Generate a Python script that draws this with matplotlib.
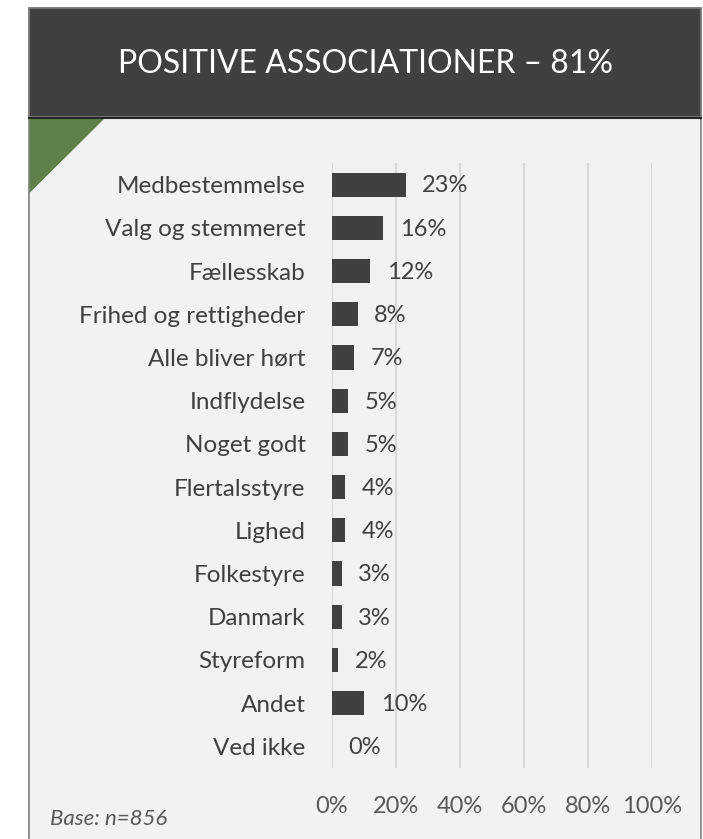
import matplotlib
matplotlib.use("Agg")
import matplotlib.pyplot as plt
from matplotlib.patches import Rectangle, Polygon

plt.rcParams['font.family'] = ['Lato', 'DejaVu Sans']

# Data
categories = ["Medbestemmelse", "Valg og stemmeret", "Fællesskab",
              "Frihed og rettigheder", "Alle bliver hørt", "Indflydelse",
              "Noget godt", "Flertalsstyre", "Lighed", "Folkestyre",
              "Danmark", "Styreform", "Andet", "Ved ikke"]
values = [23, 16, 12, 8, 7, 5, 5, 4, 4, 3, 3, 2, 10, 0]
xticks = [0, 20, 40, 60, 80, 100]
title = "POSITIVE ASSOCIATIONER – 81%"
base_note = "Base: n=856"

W, H = 703, 839
fig = plt.figure(figsize=(W / 100, H / 100), dpi=100)
fig.patch.set_facecolor("white")

# background panel drawn in pixel coords
bg = fig.add_axes([0, 0, 1, 1])
bg.set_xlim(0, W)
bg.set_ylim(H, 0)
bg.axis("off")
bg.add_patch(Rectangle((29, 8), 672, 840, facecolor="#f2f2f2",
                       edgecolor="#7f7f7f", lw=1.2))
bg.add_patch(Rectangle((29, 8), 672, 109, facecolor="#404040",
                       edgecolor="#7f7f7f", lw=1.2))
bg.plot([29, 701], [117.5, 117.5], color="#262626", lw=1.5)
bg.add_patch(Polygon([(29.5, 118), (105, 118), (29.5, 193)], closed=True,
                     facecolor="#608049", edgecolor="none"))
bg.text(365, 64, title, ha="center", va="center", color="white", fontsize=23)
bg.text(50, 819, base_note, ha="left", va="center", color="#595959",
        fontsize=16, style="italic")

# bar chart
ax = fig.add_axes([332 / W, 1 - 768 / H, 320 / W, 605 / H])
ax.set_facecolor("none")
y = list(range(len(categories)))
ax.barh(y, values, height=0.56, color="#404040", lw=0, zorder=3)
ax.set_xlim(0, 100)
ax.set_ylim(len(categories) - 0.5, -0.5)
ax.set_xticks(xticks)
ax.set_xticklabels([f"{t}%" for t in xticks])
ax.set_yticks(y)
ax.set_yticklabels(categories)
ax.grid(axis="x", color="#d9d9d9", lw=1.5, zorder=0)
ax.axvline(0, color="#d9d9d9", lw=1.5, zorder=1)
for s in ax.spines.values():
    s.set_visible(False)
ax.tick_params(axis="both", length=0)
ax.tick_params(axis="y", pad=19, labelsize=17.5, labelcolor="#404040")
ax.tick_params(axis="x", pad=20, labelsize=17, labelcolor="#595959")

for yi, v in zip(y, values):
    ax.annotate(f"{v}%", (v, yi), xytext=(12, -1), textcoords="offset points",
                ha="left", va="center", fontsize=17, color="#404040")

fig.savefig("out.png", dpi=100, facecolor="white")
